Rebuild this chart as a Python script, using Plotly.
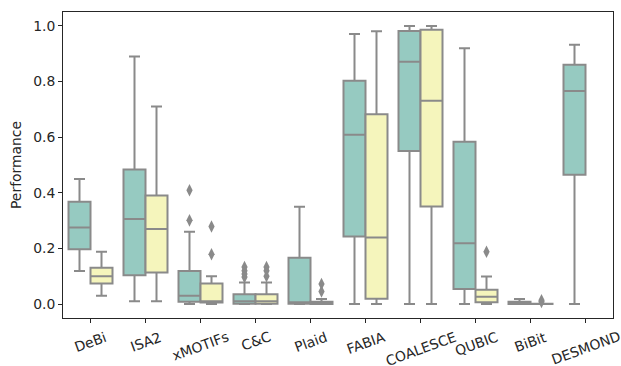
import plotly.graph_objects as go

categories = ["DeBi", "ISA2", "xMOTIFs", "C&C", "Plaid", "FABIA", "COALESCE", "QUBIC", "BiBit", "DESMOND"]

# Series A (teal)
a_lower = [0.119, 0.010, 0.000, 0.000, 0.000, 0.000, 0.000, 0.000, 0.000, 0.000]
a_q1 = [0.197, 0.104, 0.008, 0.001, 0.001, 0.243, 0.550, 0.054, 0.000, 0.465]
a_median = [0.275, 0.306, 0.030, 0.010, 0.007, 0.609, 0.871, 0.219, 0.003, 0.766]
a_q3 = [0.368, 0.484, 0.119, 0.035, 0.167, 0.803, 0.982, 0.584, 0.008, 0.860]
a_upper = [0.450, 0.890, 0.260, 0.078, 0.350, 0.971, 1.000, 0.920, 0.018, 0.932]

# Series B (yellow) - no value for DESMOND
b_cats = ["DeBi", "ISA2", "xMOTIFs", "C&C", "Plaid", "FABIA", "COALESCE", "QUBIC", "BiBit"]
b_lower = [0.030, 0.010, 0.000, 0.000, 0.000, 0.000, 0.000, 0.000, 0.000]
b_q1 = [0.074, 0.114, 0.006, 0.001, 0.000, 0.019, 0.351, 0.007, 0.000]
b_median = [0.100, 0.270, 0.010, 0.010, 0.003, 0.239, 0.731, 0.026, 0.000]
b_q3 = [0.131, 0.390, 0.074, 0.035, 0.008, 0.682, 0.986, 0.052, 0.001]
b_upper = [0.188, 0.710, 0.100, 0.078, 0.018, 0.981, 1.000, 0.099, 0.001]

# Outliers
a_out_cats = ["xMOTIFs", "xMOTIFs", "C&C", "C&C", "C&C", "C&C"]
a_out_vals = [0.409, 0.301, 0.133, 0.120, 0.108, 0.097]
b_out_cats = ["xMOTIFs", "xMOTIFs", "C&C", "C&C", "C&C", "Plaid", "Plaid", "QUBIC", "BiBit", "BiBit"]
b_out_vals = [0.279, 0.179, 0.133, 0.120, 0.100, 0.072, 0.045, 0.188, 0.014, 0.008]

y_ticks = [0.0, 0.2, 0.4, 0.6, 0.8, 1.0]

TEAL = "#96cac1"
YELLOW = "#f5f5bc"
GRAY = "#8a8a8a"
OFF = 0.2
FS = 13.9

idx = {c: i for i, c in enumerate(categories)}

fig = go.Figure()
fig.add_trace(go.Box(
    x=[idx[c] - OFF for c in categories], q1=a_q1, median=a_median, q3=a_q3,
    lowerfence=a_lower, upperfence=a_upper, width=0.4, boxpoints=False,
    fillcolor=TEAL, line=dict(color=GRAY, width=2), whiskerwidth=0.5,
    showlegend=False, hoverinfo="skip"))
fig.add_trace(go.Box(
    x=[idx[c] + OFF for c in b_cats], q1=b_q1, median=b_median, q3=b_q3,
    lowerfence=b_lower, upperfence=b_upper, width=0.4, boxpoints=False,
    fillcolor=YELLOW, line=dict(color=GRAY, width=2), whiskerwidth=0.5,
    showlegend=False, hoverinfo="skip"))
fig.add_trace(go.Scatter(
    x=[idx[c] - OFF for c in a_out_cats], y=a_out_vals, mode="markers",
    marker=dict(symbol="diamond-tall", size=9, color=GRAY), showlegend=False))
fig.add_trace(go.Scatter(
    x=[idx[c] + OFF for c in b_out_cats], y=b_out_vals, mode="markers",
    marker=dict(symbol="diamond-tall", size=9, color=GRAY), showlegend=False))

for c in categories:
    fig.add_annotation(x=idx[c], y=0, xref="x", yref="paper", text=c,
                       showarrow=False, textangle=-20, xanchor="center",
                       yanchor="top", yshift=-8,
                       font=dict(family="DejaVu Sans", size=FS, color="#262626"))

fig.update_layout(
    width=621, height=366,
    margin=dict(l=63, r=8, t=12, b=48),
    paper_bgcolor="white", plot_bgcolor="white",
    boxmode="overlay",
    font=dict(family="DejaVu Sans", size=FS, color="#262626"),
    xaxis=dict(range=[-0.5, 9.5], tickvals=list(range(len(categories))),
               showticklabels=False, ticks="outside", ticklen=4,
               tickcolor="#262626", showgrid=False, zeroline=False,
               showline=True, linecolor="#262626", linewidth=1, mirror=True),
    yaxis=dict(range=[-0.05, 1.05], tickvals=y_ticks, tickformat=".1f",
               ticks="outside", ticklen=4, tickcolor="#262626",
               showgrid=False, zeroline=False,
               showline=True, linecolor="#262626", linewidth=1, mirror=True,
               title=dict(text="Performance", standoff=8,
                          font=dict(family="DejaVu Sans", size=FS, color="#262626"))),
)

fig.write_html("out.html", config={"displayModeBar": False},
               post_script="document.body.style.margin='0';document.body.style.overflow='hidden';")
